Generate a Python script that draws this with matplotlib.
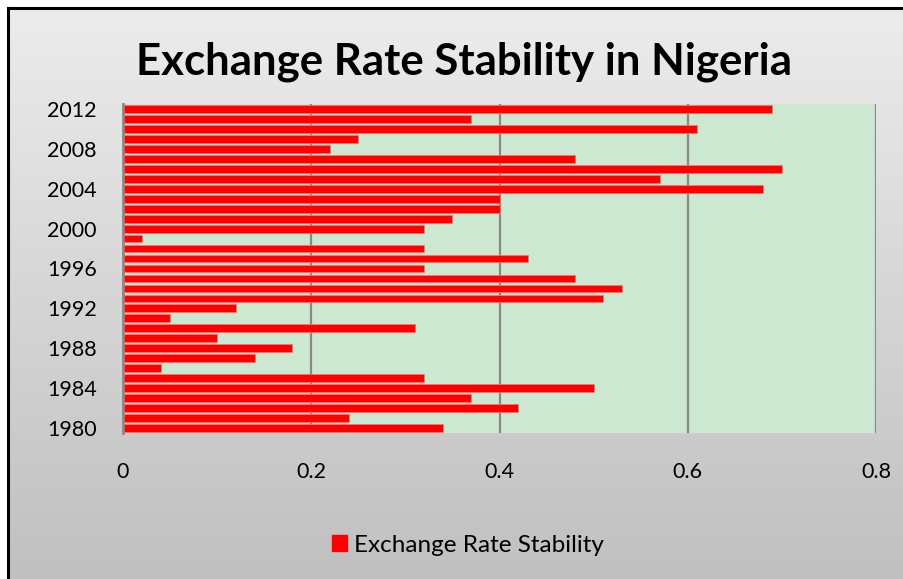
import numpy as np
import matplotlib.pyplot as plt
from matplotlib.lines import Line2D
from matplotlib.patches import Patch

years = list(range(1980, 2013))
stability = [0.34, 0.24, 0.42, 0.37, 0.50, 0.32, 0.04, 0.14, 0.18, 0.10,
             0.31, 0.05, 0.12, 0.51, 0.53, 0.48, 0.32, 0.43, 0.32, 0.02,
             0.32, 0.35, 0.40, 0.40, 0.68, 0.57, 0.70, 0.48, 0.22, 0.25,
             0.61, 0.37, 0.69]
year_ticks = list(range(1980, 2013, 4))
x_ticks = [0, 0.2, 0.4, 0.6, 0.8]
x_labels = ['0', '0.2', '0.4', '0.6', '0.8']

plt.rcParams['font.family'] = ['Lato', 'DejaVu Sans']

W, H = 904, 579
fig = plt.figure(figsize=(W / 100, H / 100), dpi=100)
fig.patch.set_facecolor('white')

# gray gradient background of the chart area
bg = fig.add_axes([8 / W, 0, 1 - 8 / W, 1 - 9 / H], zorder=-10)
grad = np.linspace(0, 1, 256).reshape(-1, 1)
bg.imshow(grad, aspect='auto', cmap=plt.matplotlib.colors.LinearSegmentedColormap.from_list(
    'g', ['#ececec', '#c0c0c0']), extent=[0, 1, 0, 1], origin='upper')
bg.set_axis_off()

# frame on left and top
fig.add_artist(Line2D([8 / W, 8 / W], [0, 1 - 8 / H], color='black', lw=2.2, transform=fig.transFigure))
fig.add_artist(Line2D([8 / W, 1], [1 - 8 / H, 1 - 8 / H], color='black', lw=2.2, transform=fig.transFigure))

ax = fig.add_axes([123 / W, 1 - 433 / H, (876 - 123) / W, (433 - 104) / H])
ax.set_facecolor('#cde8d0')
ax.barh(years, stability, height=0.78, color='#ff0000', edgecolor='#ff7070', linewidth=0.6, zorder=3)
ax.set_xlim(0, 0.8)
ax.set_ylim(1979.5, 2012.5)
ax.set_xticks(x_ticks)
ax.set_xticklabels(x_labels, fontsize=15.5)
ax.set_yticks(year_ticks)
ax.set_yticklabels([str(y) for y in year_ticks], fontsize=15.5)
ax.tick_params(axis='x', length=0, pad=21)
ax.tick_params(axis='y', length=0, pad=19)
for v in x_ticks[1:]:
    ax.axvline(v, color='#888888', lw=1.6, zorder=1)
for s in ['top', 'right', 'bottom']:
    ax.spines[s].set_visible(False)
ax.spines['left'].set_color('#888888')
ax.spines['left'].set_linewidth(2)
ax.spines['left'].set_zorder(4)

fig.text(464 / W, 1 - 62 / H, 'Exchange Rate Stability in Nigeria', fontsize=31.5,
         fontweight='bold', ha='center', va='center')

fig.legend(handles=[Patch(color='#ff0000', label='Exchange Rate Stability')],
           loc='center', bbox_to_anchor=(468 / W, 1 - 545 / H), frameon=False,
           fontsize=17.5, handlelength=0.6, handleheight=0.6, handletextpad=0.3)

fig.savefig('out.png', dpi=100)
